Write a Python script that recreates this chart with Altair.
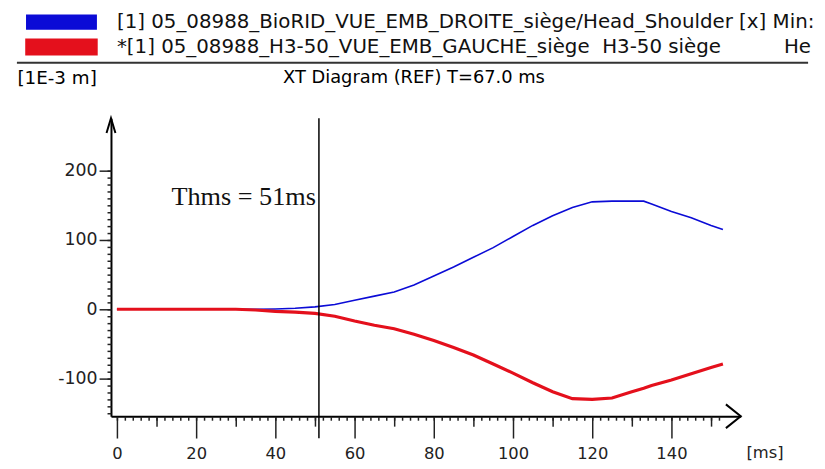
import altair as alt
import pandas as pd

# ---- data ----
time_ms = [0, 5, 10, 15, 20, 25, 30, 35, 40, 45, 50, 55, 60, 65, 70, 75, 80, 85, 90,
           95, 100, 105, 110, 115, 120, 125, 130, 133, 135, 140, 145, 150, 153]
biorid_head_shoulder = [0, 0, 0, 0, 0, 0, 0, 0, 0.5, 1.5, 3.5, 7, 13, 19, 25, 35, 48, 61, 75,
                        89, 105, 121, 135, 147, 155, 156, 156, 156, 152, 141, 132, 121, 115]
h350_head_shoulder = [0, 0, 0, 0, 0, 0, 0, -1, -3, -4, -6, -10, -17, -23, -28, -36, -45, -55, -66,
                      -79, -92, -106, -119, -129, -130, -128, -119, -114, -110, -102, -93, -84, -79]

series_names = [
    "[1] 05_08988_BioRID_VUE_EMB_DROITE_siège/Head_Shoulder [x] Min:",
    "*[1] 05_08988_H3-50_VUE_EMB_GAUCHE_siège" + "\u00a0" * 2 + "H3-50 siège" + "\u00a0" * 10 + "He",
]
series_colors = ["#0b0bd6", "#e4101c"]
series_widths = [1.6, 3.2]

thms_ms = 51
thms_label = "Thms = 51ms"
title_text = "XT Diagram (REF) T=67.0 ms"
y_unit = "[1E-3 m]"
x_unit = "[ms]"

x_domain = [-1.5, 157.5]
y_domain = [-154.3, 275.7]
x_major_ticks = list(range(0, 141, 20))
x_mid_ticks = list(range(10, 151, 20))
x_minor_ticks = list(range(0, 153, 2))
y_major_ticks = [-100, 0, 100, 200]
y_minor_ticks = list(range(-150, 201, 10))
rule_bottom = -186
thms_label_y = 151

rows = []
for t, v in zip(time_ms, biorid_head_shoulder):
    rows.append({"t": t, "v": v, "series": series_names[0]})
for t, v in zip(time_ms, h350_head_shoulder):
    rows.append({"t": t, "v": v, "series": series_names[1]})
df = pd.DataFrame(rows)

FONT = "DejaVu Sans"

x_scale = alt.Scale(domain=x_domain, nice=False, zero=False)
y_scale = alt.Scale(domain=y_domain, nice=False, zero=False)
color_scale = alt.Scale(domain=series_names, range=series_colors)

tick_style = dict(tickColor="#222222", tickWidth=1.5, grid=False)

x_axis_major = alt.Axis(
    orient="bottom", values=x_major_ticks, tickSize=22,
    labelExpr="toString(datum.value)",
    domainColor="#000000", domainWidth=2,
    labelFont=FONT, labelFontSize=16.5, labelColor="#222222",
    labelPadding=8, labelOverlap=False, labelFlush=False,
    title=x_unit, titleFont=FONT, titleFontSize=16.5, titleFontWeight="normal",
    titleColor="#222222", titleX=660, titleY=37, titleAlign="center", titleBaseline="middle",
    **tick_style,
)
x_axis_mid = alt.Axis(orient="bottom", values=x_mid_ticks, tickSize=10, labels=False,
                      domain=False, title=None, **tick_style)
x_axis_minor = alt.Axis(orient="bottom", values=x_minor_ticks, tickSize=4, labels=False,
                        domain=False, title=None, **tick_style)

y_axis_major = alt.Axis(
    orient="left", values=y_major_ticks, tickSize=12,
    labelExpr="toString(datum.value)",
    domainColor="#000000", domainWidth=2,
    labelFont=FONT, labelFontSize=17.5, labelColor="#222222",
    labelPadding=2, labelOverlap=False, labelFlush=False,
    title=y_unit, titleFont=FONT, titleFontSize=18.5, titleFontWeight="normal",
    titleColor="#000000", titleAngle=0, titleX=-95, titleY=-41,
    titleAlign="left", titleBaseline="middle",
    **tick_style,
)
y_axis_minor = alt.Axis(orient="left", values=y_minor_ticks, tickSize=4, labels=False,
                        domain=False, title=None, **tick_style)

legend = alt.Legend(
    orient="none", legendX=-60, legendY=-107, title=None, direction="vertical",
    symbolType="M-5,-1H5V1H-5Z", symbolSize=196, symbolStrokeWidth=0,
    labelFont=FONT, labelFontSize=20, labelColor="#111111",
    labelOffset=46, labelLimit=3000, rowPadding=0, padding=0,
)

# invisible layer that only carries the legend (filled swatches)
legend_layer = alt.Chart(df).mark_point(filled=True, size=0, opacity=1).encode(
    x=alt.X("t:Q", scale=x_scale, axis=None),
    y=alt.Y("v:Q", scale=y_scale, axis=None),
    color=alt.Color("series:N", sort=series_names, scale=color_scale, legend=legend),
)

lines = alt.Chart(df).mark_line(clip=False).encode(
    x=alt.X("t:Q", scale=x_scale, axis=x_axis_major),
    y=alt.Y("v:Q", scale=y_scale, axis=y_axis_major),
    color=alt.Color("series:N", sort=series_names, scale=color_scale, legend=None),
    strokeWidth=alt.StrokeWidth("series:N",
                                scale=alt.Scale(domain=series_names, range=series_widths), legend=None),
    order=alt.Order("t:Q"),
)

rule_df = pd.DataFrame({"t": [thms_ms], "top": [y_domain[1]], "bottom": [rule_bottom],
                        "ty": [thms_label_y], "label": [thms_label]})
vrule = alt.Chart(rule_df).mark_rule(color="#000000", strokeWidth=1.5, clip=False).encode(
    x=alt.X("t:Q", scale=x_scale, axis=x_axis_mid),
    y=alt.Y("top:Q", scale=y_scale, axis=None),
    y2="bottom:Q",
)
thms_text = alt.Chart(rule_df).mark_text(
    align="right", baseline="alphabetic", dx=-3,
    font="Liberation Serif", fontSize=26.5, color="#111111",
).encode(
    x=alt.X("t:Q", scale=x_scale, axis=None),
    y=alt.Y("ty:Q", scale=y_scale, axis=None),
    text="label:N",
)

arrow_df = pd.DataFrame({
    "t": [x_domain[1], x_domain[0]],
    "v": [y_domain[0], y_domain[1]],
    "shape": ["M-1,-0.8L0,0L-1,0.8", "M-0.3,1L0,0L0.3,1"],
})
arrows = alt.Chart(arrow_df).mark_point(filled=False, size=900, strokeWidth=2, color="#000000",
                                        opacity=1, clip=False).encode(
    x=alt.X("t:Q", scale=x_scale, axis=x_axis_minor),
    y=alt.Y("v:Q", scale=y_scale, axis=y_axis_minor),
    shape=alt.Shape("shape:N", scale=None, legend=None),
)

sep_df = pd.DataFrame({"label": [title_text]})
sep = alt.Chart(sep_df).mark_rule(color="#333333", strokeWidth=2, clip=False).encode(
    x=alt.value(-95), x2=alt.value(704), y=alt.value(-56), y2=alt.value(-56),
)
title_mark = alt.Chart(sep_df).mark_text(
    font=FONT, fontSize=18, color="#000000", align="center", baseline="middle",
).encode(x=alt.value(306), y=alt.value(-41), text="label:N")

chart = alt.layer(legend_layer, lines, vrule, thms_text, arrows, title_mark, sep).resolve_axis(
    x="independent", y="independent"
).properties(
    width=636, height=301,
    padding={"left": 104, "top": 109, "right": 77, "bottom": 51},
    autosize=alt.AutoSizeParams(type="none"),
    background="#ffffff",
).configure_view(stroke=None)

chart.save("out.html", embed_options={"renderer": "svg", "actions": False})
